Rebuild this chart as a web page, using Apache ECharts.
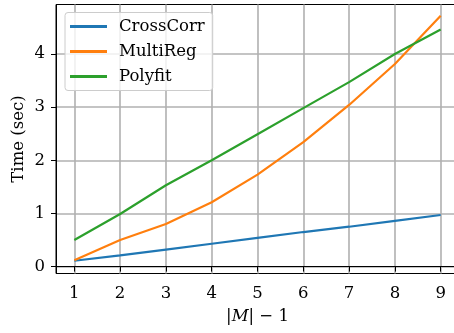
<!DOCTYPE html>
<html><head><meta charset="utf-8">
<script src="https://cdn.jsdelivr.net/npm/echarts@6/dist/echarts.min.js"></script>
<style>html,body{margin:0;padding:0;background:#fff}#c{width:454px;height:333px}</style>
</head><body><div id="c"></div>
<script>
const xValues = [1, 2, 3, 4, 5, 6, 7, 8, 9];
const crossCorr = [0.11, 0.21, 0.32, 0.43, 0.54, 0.65, 0.75, 0.86, 0.97];
const multiReg = [0.12, 0.50, 0.80, 1.21, 1.73, 2.34, 3.04, 3.81, 4.72];
const polyfit = [0.50, 0.99, 1.53, 2.00, 2.49, 2.98, 3.47, 4.00, 4.46];
const xTicks = [1, 2, 3, 4, 5, 6, 7, 8, 9];
const yTicks = [0, 1, 2, 3, 4];
const seriesNames = ['CrossCorr', 'MultiReg', 'Polyfit'];
const colors = ['#1f77b4', '#ff7f0e', '#2ca02c'];

const font = 'DejaVu Serif';
const fs = 16.5;
const pair = arr => xValues.map((x, i) => [x, arr[i]]);
const gridStyle = {color: '#b0b0b0', width: 1.6};

const chart = echarts.init(document.getElementById('c'), null, {renderer: 'canvas'});
chart.setOption({
  animation: false,
  backgroundColor: '#fff',
  textStyle: {fontFamily: font},
  grid: {left: 56, top: 4.5, right: -5, bottom: 59.5, show: true, borderColor: '#000', borderWidth: 1, containLabel: false, outerBoundsMode: 'none'},
  xAxis: {
    type: 'value', min: 0.6, max: 9.4,
    name: '|{i|M}| \u2212 1', nameLocation: 'middle', nameGap: 35,
    nameTextStyle: {fontFamily: font, fontSize: fs, color: '#000', rich: {i: {fontFamily: font, fontStyle: 'italic', fontSize: fs, color: '#000'}}},
    axisLine: {show: true, lineStyle: {color: '#000', width: 1}},
    axisTick: {show: true, length: 5, lineStyle: {color: '#000', width: 1}, customValues: xTicks},
    axisLabel: {fontFamily: font, fontSize: fs, color: '#000', margin: 12, customValues: xTicks},
    splitLine: {show: true, lineStyle: gridStyle}
  },
  yAxis: {
    type: 'value', min: -0.13, max: 4.93,
    name: 'Time (sec)', nameLocation: 'middle', nameGap: 29, nameRotate: 90, nameMoveOverlap: false,
    nameTextStyle: {fontFamily: font, fontSize: fs, color: '#000'},
    axisLine: {show: true, lineStyle: {color: '#000', width: 1}},
    axisTick: {show: true, length: 5, lineStyle: {color: '#000', width: 1}, customValues: yTicks},
    axisLabel: {fontFamily: font, fontSize: fs, color: '#000', margin: 11, customValues: yTicks},
    splitLine: {show: true, lineStyle: gridStyle}
  },
  legend: {
    orient: 'vertical', left: 65, top: 12.5,
    padding: [5, 8, 5, 5],
    backgroundColor: 'rgba(255,255,255,0.8)', borderColor: '#cccccc', borderWidth: 1, borderRadius: 3,
    itemWidth: 37, itemHeight: 3, itemGap: 7,
    icon: 'rect',
    textStyle: {fontFamily: font, fontSize: fs, color: '#000', lineHeight: 18, padding: [0, 0, 0, 7]},
    data: seriesNames
  },
  series: [
    {name: seriesNames[0], type: 'line', data: pair(crossCorr), color: colors[0], showSymbol: false, lineStyle: {width: 2.2}},
    {name: seriesNames[1], type: 'line', data: pair(multiReg), color: colors[1], showSymbol: false, lineStyle: {width: 2.2}},
    {name: seriesNames[2], type: 'line', data: pair(polyfit), color: colors[2], showSymbol: false, lineStyle: {width: 2.2}}
  ]
});
</script></body></html>
